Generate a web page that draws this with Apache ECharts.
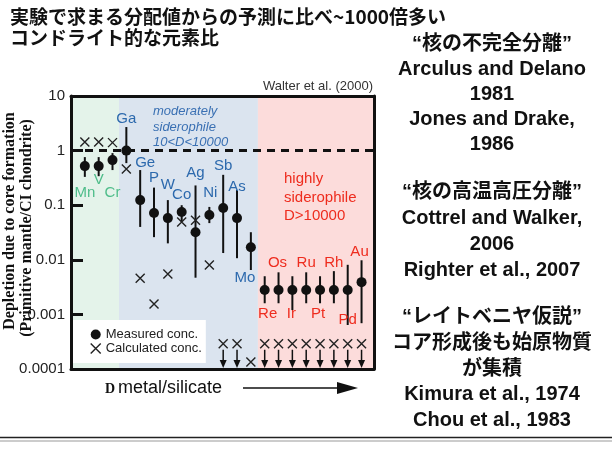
<!DOCTYPE html>
<html>
<head>
<meta charset="utf-8">
<script src="https://cdn.jsdelivr.net/npm/echarts@6/dist/echarts.min.js"></script>
<style>
html, body { margin: 0; padding: 0; background: #fff; }
#chart { width: 612px; height: 450px; }
</style>
</head>
<body>
<div id="chart"></div>
<script>
// Siderophile element depletion in the primitive mantle (Walter et al., 2000)
const elements = ['Mn', 'V', 'Cr', 'Ga', 'Ge', 'P', 'W', 'Co', 'Ag', 'Ni', 'Sb', 'As', 'Mo',
                  'Re', 'Os', 'Ir', 'Ru', 'Pt', 'Rh', 'Pd', 'Au'];
// 0 = lithophile-ish, 1 = moderately siderophile, 2 = highly siderophile
const elementGroup = [0, 0, 0, 1, 1, 1, 1, 1, 1, 1, 1, 1, 1, 2, 2, 2, 2, 2, 2, 2, 2];
const measured = [0.52, 0.52, 0.67, 1.0, 0.124, 0.072, 0.058, 0.075, 0.032, 0.066, 0.089, 0.058, 0.017,
                  0.0028, 0.0028, 0.0028, 0.0028, 0.0028, 0.0028, 0.0028, 0.0039];
const errLow = [0.33, 0.34, 0.44, 0.59, 0.04, 0.026, 0.02, 0.05, 0.0047, 0.047, 0.0133, 0.0107, 0.0065,
                0.0016, 0.0016, 0.0012, 0.0016, 0.0016, 0.0016, 0.00064, 0.00069];
const errHigh = [0.76, 0.76, 0.9, 2.7, 0.44, 0.21, 0.124, 0.1, 0.23, 0.093, 0.36, 0.19, 0.032,
                 0.005, 0.0059, 0.005, 0.0059, 0.005, 0.0062, 0.0081, 0.0098];
const calculated = [1.44, 1.44, 1.4, 0.46, 0.0046, 0.00155, 0.0055, 0.049, 0.053, 0.008, 0.00029, 0.00029, 0.000134,
                    0.00029, 0.00029, 0.00029, 0.00029, 0.00029, 0.00029, 0.00029, 0.00029];
// 1 = calculated value is an upper limit (drawn with a downward arrow)
const upperLimit = [0, 0, 0, 0, 0, 0, 0, 0, 0, 0, 1, 1, 0, 1, 1, 1, 1, 1, 1, 1, 1];
const yTickLabels = ['0.0001', '0.001', '0.01', '0.1', '1', '10'];
// D metal/silicate regimes along the element axis
const bandEdges = [-1, 2.47, 12.51, 20.9];

// label placement relative to each measured point (px)
const labelOffset = [[0, 27], [0, 14], [0, 33], [0, -32], [5, -37], [0, -35], [0, -33], [0, -17], [0, -59],
                     [1, -22], [0, -42], [0, -31], [-6, 31], [3, 24], [-1, -27], [-1, 24], [0, -27],
                     [-2, 24], [0, -27], [0, 30], [-2, -30]];
const groupColor = ['#4fbd8a', '#2c69ad', '#ee2c1e'];
const bandColor = ['#e4f3ea', '#dbe4ef', '#fcdcdb'];

const SANS = '"Liberation Sans", Arial, sans-serif';
const CJK = '"Liberation Sans", "Noto Sans CJK JP", sans-serif';
const SERIF = '"Liberation Serif", "Times New Roman", serif';
const xPath = 'path://M0,0L10,10M10,0L0,10';

const chart = echarts.init(document.getElementById('chart'), null, { renderer: 'canvas' });

const frameAxis = (pos) => ({
  type: 'value', min: bandEdges[0], max: bandEdges[3], position: pos, z: 10,
  axisLine: { show: true, onZero: false, lineStyle: { color: '#111', width: 3 } },
  axisTick: { show: false }, axisLabel: { show: false }, splitLine: { show: false }
});

const option = {
  animation: false,
  backgroundColor: '#fff',
  grid: { left: 71, right: 238, top: 96, bottom: 81 },
  xAxis: [frameAxis('bottom'), frameAxis('top')],
  yAxis: [
    {
      type: 'log', logBase: 10, min: 1e-4, max: 10, position: 'left', z: 10,
      axisLine: { show: true, onZero: false, lineStyle: { color: '#111', width: 3 } },
      axisTick: { show: true, inside: true, length: 12, lineStyle: { color: '#111', width: 3 } },
      axisLabel: {
        margin: 6, color: '#222', fontSize: 15, fontFamily: SANS,
        formatter: (v) => yTickLabels[Math.round(Math.log10(v)) + 4]
      },
      splitLine: { show: false }
    },
    {
      type: 'log', logBase: 10, min: 1e-4, max: 10, position: 'right', z: 10,
      axisLine: { show: true, onZero: false, lineStyle: { color: '#111', width: 3 } },
      axisTick: { show: false }, axisLabel: { show: false }, splitLine: { show: false }
    }
  ],
  legend: {
    orient: 'vertical', left: 73, top: 320,
    backgroundColor: '#fff',
    padding: [8, 4, 8, 17],
    itemWidth: 10, itemHeight: 14, itemGap: 1,
    textStyle: { color: '#222', fontSize: 13, fontFamily: SANS },
    data: [
      { name: 'Measured conc.', icon: 'circle', itemStyle: { color: '#111', opacity: 1 } },
      { name: 'Calculated conc.', icon: xPath,
        itemStyle: { color: 'transparent', borderColor: '#222', borderWidth: 1.4, opacity: 1 } }
    ]
  },
  series: [
    {
      name: 'bands', type: 'line', data: [], z: 0, silent: true,
      markArea: {
        silent: true,
        data: bandColor.map((c, i) => [
          { xAxis: bandEdges[i], itemStyle: { color: c, opacity: 1 } },
          { xAxis: bandEdges[i + 1] }
        ])
      }
    },
    {
      name: 'error', type: 'custom', z: 3, silent: true,
      encode: { x: 0, y: [1, 2] },
      data: elements.map((e, i) => [i, errLow[i], errHigh[i]]),
      renderItem: (params, api) => {
        const hi = api.coord([api.value(0), api.value(2)]);
        const lo = api.coord([api.value(0), api.value(1)]);
        return {
          type: 'line',
          shape: { x1: hi[0], y1: hi[1], x2: lo[0], y2: lo[1] },
          style: { stroke: '#111', lineWidth: 2 }
        };
      }
    },
    {
      name: 'Measured conc.', type: 'scatter', z: 4,
      symbol: 'circle', symbolSize: 10,
      itemStyle: { color: '#111', opacity: 1 },
      data: elements.map((e, i) => [i, measured[i]]),
      markLine: {
        silent: true, symbol: 'none',
        label: { show: false },
        lineStyle: { color: '#111', width: 3, type: [8, 6], opacity: 1 },
        data: [{ yAxis: 1 }]
      }
    },
    {
      name: 'Calculated conc.', type: 'scatter', z: 4,
      symbol: xPath, symbolSize: 9,
      itemStyle: { color: 'transparent', borderColor: '#222', borderWidth: 1.4, opacity: 1 },
      data: elements.map((e, i) => [i, calculated[i]])
    },
    {
      name: 'limits', type: 'custom', z: 4, silent: true,
      encode: { x: 0, y: 1 },
      data: elements.map((e, i) => [i, calculated[i]]).filter((d, i) => upperLimit[i]),
      renderItem: (params, api) => {
        const p = api.coord([api.value(0), api.value(1)]);
        const b = api.coord([api.value(0), 1e-4]);
        const x = p[0], y0 = p[1] + 6, tip = b[1] - 1;
        return {
          type: 'group',
          children: [
            { type: 'line', shape: { x1: x, y1: y0, x2: x, y2: tip - 6 },
              style: { stroke: '#111', lineWidth: 1.5 } },
            { type: 'polygon', shape: { points: [[x - 3.5, tip - 8], [x + 3.5, tip - 8], [x, tip]] },
              style: { fill: '#111' } }
          ]
        };
      }
    },
    {
      name: 'names', type: 'scatter', z: 5, silent: true,
      symbolSize: 1, itemStyle: { color: 'rgba(0,0,0,0)', opacity: 1 },
      data: elements.map((e, i) => ({
        value: [i, measured[i]],
        label: {
          show: true, position: 'inside', offset: labelOffset[i],
          formatter: e, color: groupColor[elementGroup[i]], opacity: 1,
          fontSize: 15, fontFamily: SANS
        }
      }))
    }
  ],
  graphic: [
    // slide heading
    { type: 'text', left: 10, top: 7, z: 20,
      style: { text: '実験で求まる分配値からの予測に比べ~1000倍多い', font: 'bold 19px "Noto Sans CJK JP", sans-serif', fill: '#111' } },
    { type: 'text', left: 10, top: 28, z: 20,
      style: { text: 'コンドライト的な元素比', font: 'bold 19px "Noto Sans CJK JP", sans-serif', fill: '#111' } },
    // source
    { type: 'text', x: 373, y: 86, z: 20,
      style: { text: 'Walter et al. (2000)', font: '13px ' + SANS, fill: '#333', align: 'right', verticalAlign: 'middle' } },
    // regime notes
    { type: 'text', x: 153, y: 104, z: 20,
      style: { text: 'moderately\nsiderophile\n10<D<10000', font: 'italic 13px ' + SANS, fill: '#3a70b3', lineHeight: 15.5 } },
    { type: 'text', x: 284, y: 170, z: 20,
      style: { text: 'highly\nsiderophile\nD>10000', font: '15px ' + SANS, fill: '#ee2c1e', lineHeight: 18.5 } },
    // y-axis title
    { type: 'text', x: 10, y: 221, rotation: Math.PI / 2, z: 20,
      style: { text: 'Depletion due to core formation', font: 'bold 16px ' + SERIF, fill: '#111', align: 'center', verticalAlign: 'middle' } },
    { type: 'text', x: 27, y: 228, rotation: Math.PI / 2, z: 20,
      style: { text: '(Primitive mantle/CI chondrite)', font: 'bold 16px ' + SERIF, fill: '#111', align: 'center', verticalAlign: 'middle' } },
    // x-axis caption with arrow
    { type: 'text', x: 105, y: 389, z: 20,
      style: { text: 'D', font: 'bold 14px ' + SERIF, fill: '#111', verticalAlign: 'middle' } },
    { type: 'text', x: 118, y: 388, z: 20,
      style: { text: 'metal/silicate', font: '18px ' + SANS, fill: '#111', verticalAlign: 'middle' } },
    { type: 'line', z: 20, shape: { x1: 243, y1: 388, x2: 340, y2: 388 }, style: { stroke: '#111', lineWidth: 1.5 } },
    { type: 'polygon', z: 20, shape: { points: [[337, 382], [358, 388], [337, 394]] }, style: { fill: '#111' } },
    // right-hand notes
    { type: 'text', x: 492, y: 32, z: 20,
      style: { text: '“核の不完全分離”\nArculus and Delano\n1981\nJones and Drake,\n1986',
               font: 'bold 20px ' + CJK, fill: '#111', align: 'center', lineHeight: 25 } },
    { type: 'text', x: 492, y: 179, z: 20,
      style: { text: '“核の高温高圧分離”\nCottrel and Walker,\n2006\nRighter et al., 2007',
               font: 'bold 20px ' + CJK, fill: '#111', align: 'center', lineHeight: 26 } },
    { type: 'text', x: 492, y: 305, z: 20,
      style: { text: '“レイトベニヤ仮説”\nコア形成後も始原物質\nが集積\nKimura et al., 1974\nChou et al., 1983',
               font: 'bold 20px ' + CJK, fill: '#111', align: 'center', lineHeight: 25.7 } },
    // footer rule
    { type: 'line', z: 20, shape: { x1: 0, y1: 437.5, x2: 612, y2: 437.5 }, style: { stroke: '#222', lineWidth: 1.5 } },
    { type: 'line', z: 20, shape: { x1: 0, y1: 441, x2: 612, y2: 441 }, style: { stroke: '#999', lineWidth: 1 } }
  ]
};

chart.setOption(option);
</script>
</body>
</html>
